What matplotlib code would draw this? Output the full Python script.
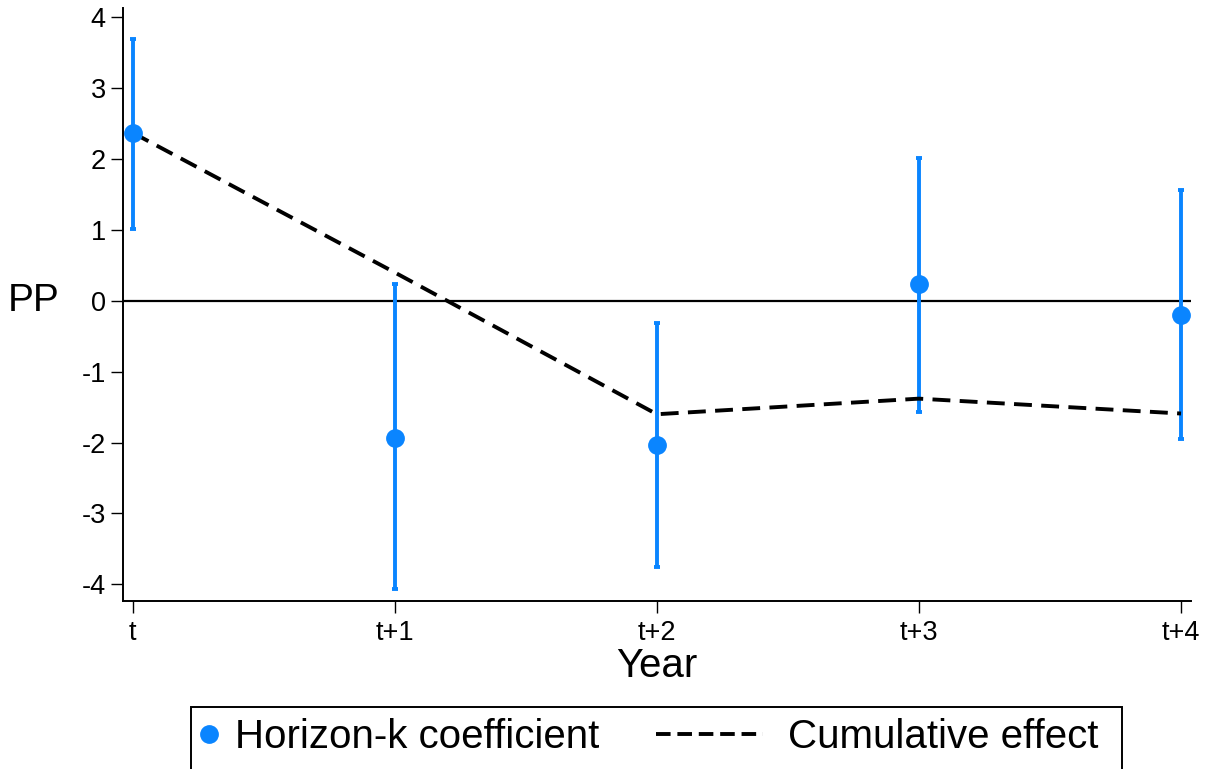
import matplotlib
matplotlib.use("Agg")
import matplotlib.pyplot as plt
from matplotlib.lines import Line2D
from matplotlib.legend_handler import HandlerBase, HandlerLine2D
from matplotlib.patches import Rectangle

plt.rcParams['font.family'] = ['Liberation Sans', 'DejaVu Sans']

# Data
horizons = ["t", "t+1", "t+2", "t+3", "t+4"]
coef = [2.37, -1.93, -2.03, 0.23, -0.20]
ci_low = [1.01, -4.06, -3.76, -1.57, -1.95]
ci_high = [3.69, 0.23, -0.31, 2.02, 1.56]
cumulative = [2.37, 0.40, -1.60, -1.38, -1.59]
yticks = [-4, -3, -2, -1, 0, 1, 2, 3, 4]

blue = '#0A85FF'

W, H = 1212, 769
fig = plt.figure(figsize=(W / 100, H / 100), dpi=100)
ax = fig.add_axes([122.7 / W, 1 - 600.7 / H, 1068 / W, (600.7 - 8) / H])

x = list(range(len(horizons)))
ax.axhline(0, color='black', lw=1.6, zorder=1)
ax.plot(x, cumulative, color='black', lw=2.8, dashes=(4.6, 2.4), zorder=3)
yerr = [[c - l for c, l in zip(coef, ci_low)], [h - c for c, h in zip(coef, ci_high)]]
ax.errorbar(x, coef, yerr=yerr, fmt='none', ecolor=blue, elinewidth=2.8,
            capsize=2.2, capthick=2.8, zorder=2)
ax.plot(x, coef, 'o', color=blue, ms=12.5, zorder=4)

ax.set_xlim(-0.038, 4.037)
ax.set_ylim(-4.23, 4.13)
ax.set_xticks(x)
ax.set_xticklabels(horizons)
ax.set_yticks(yticks)
ax.set_yticklabels([str(v) for v in yticks])
ax.tick_params(axis='both', labelsize=19.5, width=1.0, length=8.6, color='black')
ax.tick_params(axis='y', pad=3.6)
ax.tick_params(axis='x', pad=5.5)
for s in ['top', 'right']:
    ax.spines[s].set_visible(False)
for s in ['left', 'bottom']:
    ax.spines[s].set_linewidth(1.4)

ax.set_ylabel("PP", fontsize=28, rotation=0, ha='center', va='center')
ax.yaxis.set_label_coords(-0.083, (0 + 4.23) / (4.13 + 4.23))
ax.set_xlabel("Year", fontsize=29, labelpad=0.5)


class DashHandler(HandlerBase):
    def create_artists(self, legend, orig_handle, xdescent, ydescent,
                       width, height, fontsize, trans):
        y = height / 2 - ydescent
        line = Line2D([-xdescent - 68.4, -xdescent + 8.6], [y, y],
                      color='black', lw=2.8, dashes=(3.75, 1.75))
        line.set_transform(trans)
        return [line]


marker_handle = Line2D([], [], marker='o', color=blue, ls='none', ms=12.5)
dash_handle = Line2D([], [], color='black', lw=2.8)
leg = fig.legend([marker_handle, dash_handle],
                 ["Horizon-k coefficient", "Cumulative effect"],
                 loc='upper left', bbox_to_anchor=(199 / W, 1 - 718 / H),
                 ncol=2, fontsize=29, frameon=False,
                 handlelength=0.5, handletextpad=0.4,
                 columnspacing=3.77, borderpad=0, borderaxespad=0,
                 handler_map={dash_handle: DashHandler(),
                              marker_handle: HandlerLine2D(numpoints=1)})

# legend frame
fig.patches.append(Rectangle((191 / W, -0.05), (1122 - 191) / W, 0.05 + 1 - 707 / H,
                             transform=fig.transFigure, fill=False,
                             edgecolor='black', lw=1.4))

fig.savefig("out.png", dpi=100)
